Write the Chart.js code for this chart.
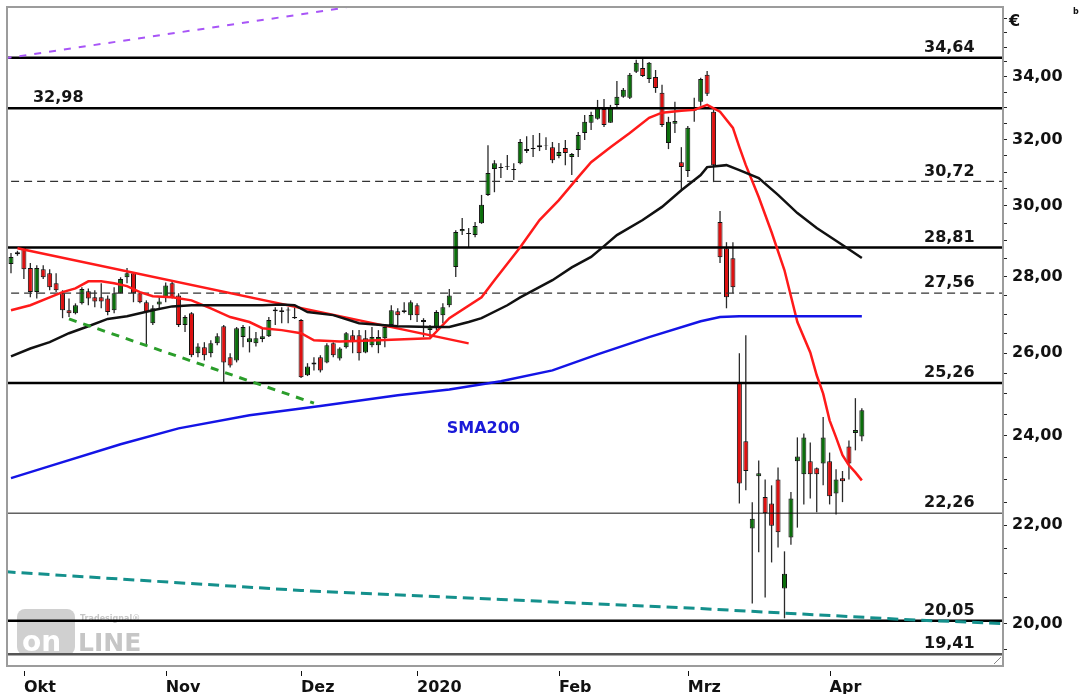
<!DOCTYPE html>
<html>
<head>
<meta charset="utf-8">
<script src="https://cdn.jsdelivr.net/npm/chart.js@4.4.1/dist/chart.umd.min.js"></script>
<style>
  html, body { margin: 0; padding: 0; background: #fff; }
  canvas { display: block; }
</style>
</head>
<body>
<canvas id="chart" width="1082" height="694"></canvas>
<script>
// Daily candles, one entry per trading day (27.09.2019 .. 08.04.2020)
const opens = [
  28.35, 28.62, 28.80, 28.24, 27.59, 28.21, 28.10, 27.83, 27.56, 27.11,
  27.03, 27.29, 27.61, 27.45, 27.45, 27.42, 27.11, 27.56, 27.99, 28.10,
  27.56, 27.32, 26.77, 27.26, 27.45, 27.83, 27.50, 26.72, 27.03, 26.00,
  26.15, 26.00, 26.25, 26.69, 25.90, 25.82, 26.41, 26.28, 26.25, 26.36,
  26.43, 27.08, 27.11, 27.10, 26.93, 26.85, 25.45, 25.72, 25.90, 25.77,
  26.25, 25.87, 26.15, 26.46, 26.46, 26.02, 26.20, 26.20, 26.38, 26.72,
  27.08, 27.06, 26.98, 27.24, 26.85, 26.59, 26.67, 26.98, 27.24, 28.27,
  29.27, 29.22, 29.16, 29.50, 30.32, 31.09, 31.15, 31.15, 31.09, 31.27,
  31.70, 31.70, 31.76, 31.80, 31.76, 31.49, 31.73, 31.46, 31.67, 32.20,
  32.52, 32.65, 32.96, 32.52, 33.09, 33.35, 33.32, 34.17, 34.30, 33.93,
  34.00, 33.48, 31.89, 32.49, 31.30, 31.03, 32.90, 33.19, 34.07, 32.87,
  29.53, 28.79, 28.51, 25.26, 23.87, 21.93, 23.07, 22.61, 22.47, 23.00,
  20.69, 21.74, 23.41, 23.12, 23.41, 23.25, 23.36, 23.41, 22.69, 23.03,
  23.75, 24.06, 23.98
];
const highs = [
  28.66, 28.72, 28.82, 28.38, 28.32, 28.32, 28.21, 28.10, 27.64, 27.42,
  27.29, 27.72, 27.69, 27.64, 27.83, 27.50, 27.72, 27.99, 28.24, 28.13,
  27.59, 27.37, 27.24, 27.45, 27.85, 27.91, 27.56, 26.98, 27.06, 26.25,
  26.28, 26.33, 26.51, 26.72, 26.00, 26.67, 26.72, 26.69, 26.54, 26.64,
  26.93, 27.19, 27.19, 27.19, 27.19, 26.88, 25.75, 25.90, 25.95, 26.25,
  26.28, 26.15, 26.54, 26.59, 26.59, 26.59, 26.67, 26.59, 26.72, 27.24,
  27.16, 27.32, 27.37, 27.29, 26.90, 26.72, 27.11, 27.29, 27.67, 29.30,
  29.65, 29.36, 29.53, 30.32, 31.82, 31.36, 31.27, 31.52, 31.27, 32.01,
  32.10, 32.14, 32.20, 32.07, 31.92, 31.89, 31.98, 31.58, 32.23, 32.77,
  32.87, 33.25, 33.28, 33.09, 33.87, 33.64, 34.13, 34.57, 34.60, 34.50,
  34.23, 33.74, 32.71, 33.19, 31.76, 32.42, 33.32, 33.97, 34.20, 32.93,
  29.85, 28.96, 28.96, 26.00, 26.46, 22.50, 23.43, 23.00, 22.87, 23.27,
  21.45, 22.72, 23.96, 24.05, 23.84, 23.27, 24.44, 23.61, 23.23, 23.19,
  23.89, 24.89, 24.65
];
const lows = [
  28.10, 28.58, 27.94, 27.45, 27.42, 27.94, 27.64, 27.59, 26.90, 26.93,
  27.00, 27.26, 27.24, 27.19, 27.16, 26.98, 27.03, 27.56, 27.83, 27.32,
  27.29, 26.20, 26.72, 27.16, 27.32, 27.42, 26.67, 26.54, 25.90, 25.90,
  25.82, 25.90, 26.20, 25.28, 25.64, 25.77, 26.15, 26.02, 26.17, 26.28,
  26.41, 26.72, 26.77, 26.77, 26.88, 25.38, 25.43, 25.57, 25.52, 25.75,
  25.90, 25.82, 26.12, 26.00, 25.82, 26.00, 26.15, 26.00, 26.15, 26.67,
  26.72, 27.03, 26.85, 26.80, 26.41, 26.41, 26.59, 26.77, 27.19, 28.00,
  29.16, 28.82, 29.10, 29.48, 30.29, 30.40, 30.82, 31.06, 30.76, 31.24,
  31.58, 31.46, 31.64, 31.67, 31.27, 31.42, 31.21, 30.91, 31.46, 31.98,
  32.29, 32.62, 32.39, 32.52, 33.02, 33.32, 33.28, 34.13, 34.00, 33.80,
  33.48, 32.39, 31.70, 32.20, 30.43, 30.85, 32.55, 33.06, 33.38, 30.70,
  28.38, 27.16, 27.56, 22.47, 22.76, 20.39, 21.43, 20.51, 21.22, 21.53,
  20.10, 21.59, 21.95, 22.45, 22.58, 22.28, 22.87, 22.45, 22.23, 22.50,
  23.00, 23.66, 23.87
];
const closes = [
  28.55, 28.68, 28.21, 27.59, 28.24, 27.99, 27.72, 27.64, 27.11, 27.03,
  27.24, 27.67, 27.42, 27.34, 27.34, 27.06, 27.56, 27.94, 28.10, 27.56,
  27.32, 27.06, 27.16, 27.34, 27.77, 27.45, 26.72, 26.93, 25.95, 26.17,
  25.95, 26.25, 26.43, 25.77, 25.69, 26.64, 26.67, 26.38, 26.38, 26.43,
  26.85, 27.13, 27.06, 27.13, 26.90, 25.40, 25.67, 25.77, 25.57, 26.20,
  25.95, 26.12, 26.51, 26.28, 26.00, 26.38, 26.41, 26.41, 26.67, 27.11,
  26.98, 27.11, 27.32, 26.98, 26.80, 26.67, 27.06, 27.19, 27.50, 29.25,
  29.33, 29.19, 29.42, 30.03, 30.97, 31.27, 31.12, 31.18, 31.06, 31.92,
  31.64, 31.73, 31.82, 31.82, 31.36, 31.61, 31.58, 31.55, 32.14, 32.55,
  32.77, 32.99, 32.45, 32.99, 33.35, 33.58, 34.07, 34.47, 34.03, 34.47,
  33.64, 32.45, 32.55, 32.58, 31.15, 32.36, 32.99, 33.93, 33.45, 31.21,
  28.54, 27.45, 27.72, 22.91, 23.19, 22.14, 23.14, 22.26, 21.99, 21.85,
  20.99, 22.58, 23.52, 23.96, 23.12, 23.12, 23.96, 22.63, 23.00, 22.96,
  23.36, 24.13, 24.60
];

// month labels on the time axis (bar index of first trading day)
const monthIdx = [2, 24, 45, 63, 85, 105, 127];
const monthNames = ['Okt', 'Nov', 'Dez', '2020', 'Feb', 'Mrz', 'Apr'];

// price axis: tick marks and the labelled ones
const yTickVals = [19.5, 20, 20.5, 21, 21.5, 22, 22.5, 23, 23.5, 24, 24.5, 25, 25.5, 26, 26.5,
                   27, 27.5, 28, 28.5, 29, 29.5, 30, 30.5, 31, 31.5, 32, 32.5, 33, 33.5, 34, 34.5, 35, 35.5, 36];
const yLabelVals = [20, 22, 24, 26, 28, 30, 32, 34];

// moving averages (bar index / value)
const redIdx = [0, 3, 6, 8, 10, 12, 14, 16, 18, 20, 22, 25, 28, 31, 34, 37, 39, 42, 45, 47, 51, 57, 65, 68,
                73, 75, 79, 82, 85, 88, 90, 93, 96, 99, 101, 104, 106, 108, 110, 112, 113, 114, 116, 118,
                120, 122, 124, 125, 126, 127, 128, 129, 130, 131, 132];
const redVal = [27.11, 27.24, 27.45, 27.59, 27.69, 27.88, 27.88, 27.83, 27.75, 27.59, 27.48, 27.45, 27.37,
                27.16, 26.93, 26.80, 26.64, 26.59, 26.51, 26.33, 26.30, 26.33, 26.38, 26.90, 27.45, 27.91,
                28.82, 29.59, 30.17, 30.85, 31.30, 31.76, 32.20, 32.68, 32.84, 32.90, 32.93, 33.09, 32.87,
                32.36, 31.76, 31.21, 30.26, 29.24, 28.18, 26.80, 26.02, 25.45, 25.00, 24.36, 23.96, 23.55,
                23.32, 23.16, 22.98];

const blackIdx = [0, 3, 6, 9, 12, 15, 18, 22, 25, 28, 34, 39, 42, 44, 46, 50, 54, 60, 65, 68, 71, 73, 77,
                  79, 84, 87, 90, 92, 94, 98, 101, 104, 107, 108, 111, 113, 116, 119, 122, 125, 129, 132];
const blackVal = [25.92, 26.12, 26.28, 26.51, 26.69, 26.88, 26.95, 27.11, 27.21, 27.24, 27.24, 27.24, 27.26,
                  27.24, 27.06, 26.98, 26.77, 26.69, 26.67, 26.67, 26.80, 26.90, 27.24, 27.45, 27.91, 28.26,
                  28.55, 28.85, 29.16, 29.59, 29.97, 30.46, 30.91, 31.15, 31.21, 31.06, 30.82, 30.32, 29.79,
                  29.36, 28.88, 28.52];

const sma200Idx = [0, 6, 17, 26, 37, 48, 60, 68, 76, 84, 91, 99, 107, 110, 113, 132];
const sma200Val = [23.03, 23.30, 23.80, 24.17, 24.48, 24.70, 24.96, 25.10, 25.30, 25.57, 25.97, 26.41,
                   26.82, 26.93, 26.95, 26.95];

// trend lines
const resistIdx = [1, 71];
const resistVal = [28.79, 26.25];
const supportIdx = [9, 47];
const supportVal = [26.88, 24.77];
const purpleIdx = [-1, 52];
const purpleVal = [34.62, 36.37];
const tealIdx = [-1, 45, 76, 107, 138, 155];
const tealVal = [21.03, 20.65, 20.47, 20.29, 20.08, 19.99];

// horizontal price levels
const levels = [34.64, 32.98, 30.72, 28.81, 27.56, 25.26, 22.26, 20.05, 19.41];

// ---- styling ----
const FONT = '"DejaVu Sans", Verdana, sans-serif';
const GREEN = '#0b6e0b';
const RED = '#dd1010';
const X_MIN = -0.62, X_MAX = 153.9;
const Y_MIN = 19.19, Y_MAX = 36.39;

const levelStyle = {
  34.64: { w: 2.5, c: '#000', dash: [], side: 'right' },
  32.98: { w: 2.5, c: '#000', dash: [], side: 'left' },
  30.72: { w: 1.3, c: '#333', dash: [8, 5], side: 'right' },
  28.81: { w: 2.5, c: '#000', dash: [], side: 'right' },
  27.56: { w: 1.3, c: '#333', dash: [8, 5], side: 'right' },
  25.26: { w: 2.5, c: '#000', dash: [], side: 'right' },
  22.26: { w: 1, c: '#111', dash: [], side: 'right' },
  20.05: { w: 2.5, c: '#000', dash: [], side: 'right' },
  19.41: { w: 2.5, c: '#555', dash: [], side: 'right' }
};

const fmt = v => v.toFixed(2).replace('.', ',');
const pts = (xs, ys) => xs.map((x, k) => ({ x: x, y: ys[k] }));
const bars = opens.map((_, i) => i);

const lineDs = (data, color, width, dash, order) => ({
  type: 'line', data: data, borderColor: color, borderWidth: width, borderDash: dash || [],
  pointRadius: 0, tension: 0, fill: false, order: order
});

const datasets = [
  {
    type: 'bar', order: 3, grouped: false, barThickness: 1.3,
    data: bars.map(i => ({ x: i, y: [lows[i], highs[i]] })),
    backgroundColor: '#2a2a2a', borderWidth: 0, inflateAmount: 0
  },
  {
    type: 'bar', order: 2, grouped: false, barThickness: 5,
    data: bars.map(i => ({ x: i, y: [opens[i], closes[i]] })),
    backgroundColor: bars.map(i => closes[i] >= opens[i] ? GREEN : RED),
    borderColor: '#111', borderWidth: 1, borderSkipped: false, inflateAmount: 0
  }
];
levels.forEach(v => {
  const s = levelStyle[v];
  datasets.push(lineDs([{ x: -2, y: v }, { x: 160, y: v }], s.c, s.w, s.dash, 1));
});
datasets.push(lineDs(pts(purpleIdx, purpleVal), '#a855f7', 2, [7, 8], 0));
datasets.push(lineDs(pts(tealIdx, tealVal), '#14908c', 3, [11, 6], 0));
datasets.push(lineDs(pts(supportIdx, supportVal), '#2a9d2a', 3, [8, 7], 0));
datasets.push(lineDs(pts(sma200Idx, sma200Val), '#1414e6', 2.5, [], 0));
datasets.push(lineDs(pts(blackIdx, blackVal), '#111', 2.5, [], 0));
datasets.push(lineDs(pts(resistIdx, resistVal), '#ff1a1a', 2.5, [], 0));
datasets.push(lineDs(pts(redIdx, redVal), '#ff1a1a', 2.5, [], 0));

// watermark, frame, level captions, month tick marks
const decor = {
  id: 'decor',
  beforeDatasetsDraw(chart) {
    const ctx = chart.ctx;
    ctx.save();
    ctx.fillStyle = '#d0d0d0';
    ctx.beginPath();
    ctx.roundRect(17, 609, 58, 46, 8);
    ctx.fill();
    ctx.fillStyle = '#ffffff';
    ctx.font = 'bold 28px ' + FONT;
    ctx.textBaseline = 'alphabetic';
    ctx.fillText('on', 22, 651);
    ctx.fillStyle = '#c6c6c6';
    ctx.font = 'bold 25px ' + FONT;
    ctx.fillText('LINE', 78, 651);
    ctx.font = 'bold 8px ' + FONT;
    ctx.fillText('Tradesignal\u00ae', 80, 621);
    ctx.restore();
  },
  afterDraw(chart) {
    const ctx = chart.ctx, a = chart.chartArea;
    const xs = chart.scales.x, ys = chart.scales.y;
    ctx.save();
    // level captions
    ctx.font = 'bold 16px ' + FONT;
    ctx.fillStyle = '#151515';
    ctx.textBaseline = 'bottom';
    levels.forEach(v => {
      const s = levelStyle[v];
      const y = ys.getPixelForValue(v) - 2;
      if (s.side === 'left') { ctx.textAlign = 'left'; ctx.fillText(fmt(v), xs.getPixelForValue(3.4), y); }
      else { ctx.textAlign = 'right'; ctx.fillText(fmt(v), xs.getPixelForValue(149.5), y); }
    });
    // SMA200 caption
    ctx.fillStyle = '#1a1ad8';
    ctx.textAlign = 'left';
    ctx.textBaseline = 'middle';
    ctx.fillText('SMA200', xs.getPixelForValue(67.6), ys.getPixelForValue(24.17));
    // frame
    ctx.strokeStyle = '#9c9c9c';
    ctx.lineWidth = 2;
    ctx.strokeRect(a.left, a.top, a.right - a.left, a.bottom - a.top);
    // month tick marks
    ctx.strokeStyle = '#111';
    ctx.lineWidth = 1;
    monthIdx.forEach(v => {
      const px = Math.round(xs.getPixelForValue(v)) + 0.5;
      ctx.beginPath();
      ctx.moveTo(px, a.bottom + 5);
      ctx.lineTo(px, a.bottom + 10);
      ctx.stroke();
    });
    // currency sign and corner grip
    ctx.fillStyle = '#111';
    ctx.font = 'bold 16px ' + FONT;
    ctx.textAlign = 'left';
    ctx.textBaseline = 'middle';
    ctx.fillText('\u20ac', a.right + 6, 22);
    ctx.font = 'bold 8px ' + FONT;
    ctx.fillText('b', 1073, 12);
    ctx.fillStyle = '#fff';
    ctx.strokeStyle = '#888';
    ctx.fillRect(a.right - 11, a.bottom - 10, 10, 9);
    ctx.beginPath();
    ctx.moveTo(a.right - 9, a.bottom - 2);
    ctx.lineTo(a.right - 2, a.bottom - 9);
    ctx.stroke();
    ctx.restore();
  }
};

new Chart(document.getElementById('chart'), {
  type: 'bar',
  data: { datasets: datasets },
  plugins: [decor],
  options: {
    responsive: false,
    animation: false,
    devicePixelRatio: 1,
    layout: { padding: { left: 7, top: 7, right: 0, bottom: 0 } },
    plugins: { legend: { display: false }, tooltip: { enabled: false } },
    scales: {
      x: {
        type: 'linear', min: X_MIN, max: X_MAX, offset: false,
        afterBuildTicks: s => { s.ticks = monthIdx.map(v => ({ value: v })); },
        afterFit: s => { s.height = 28; s.paddingLeft = 0; s.paddingRight = 0; },
        grid: { drawOnChartArea: false, drawTicks: false },
        border: { display: false },
        ticks: {
          autoSkip: false, maxRotation: 0, align: 'start', padding: 12,
          color: '#111', font: { family: FONT, size: 16, weight: 'bold' },
          callback: (v, k) => monthNames[k]
        }
      },
      y: {
        type: 'logarithmic', position: 'right', min: Y_MIN, max: Y_MAX,
        afterBuildTicks: s => { s.ticks = yTickVals.map(v => ({ value: v })); },
        afterFit: s => { s.width = 79; s.paddingTop = 0; s.paddingBottom = 0; },
        grid: { drawOnChartArea: false, drawTicks: true, tickLength: 4, color: '#222' },
        border: { display: false },
        ticks: {
          autoSkip: false, padding: 5,
          color: '#111', font: { family: FONT, size: 16, weight: 'bold' },
          callback: v => yLabelVals.includes(v) ? fmt(v) : ''
        }
      }
    }
  }
});
</script>
</body>
</html>
